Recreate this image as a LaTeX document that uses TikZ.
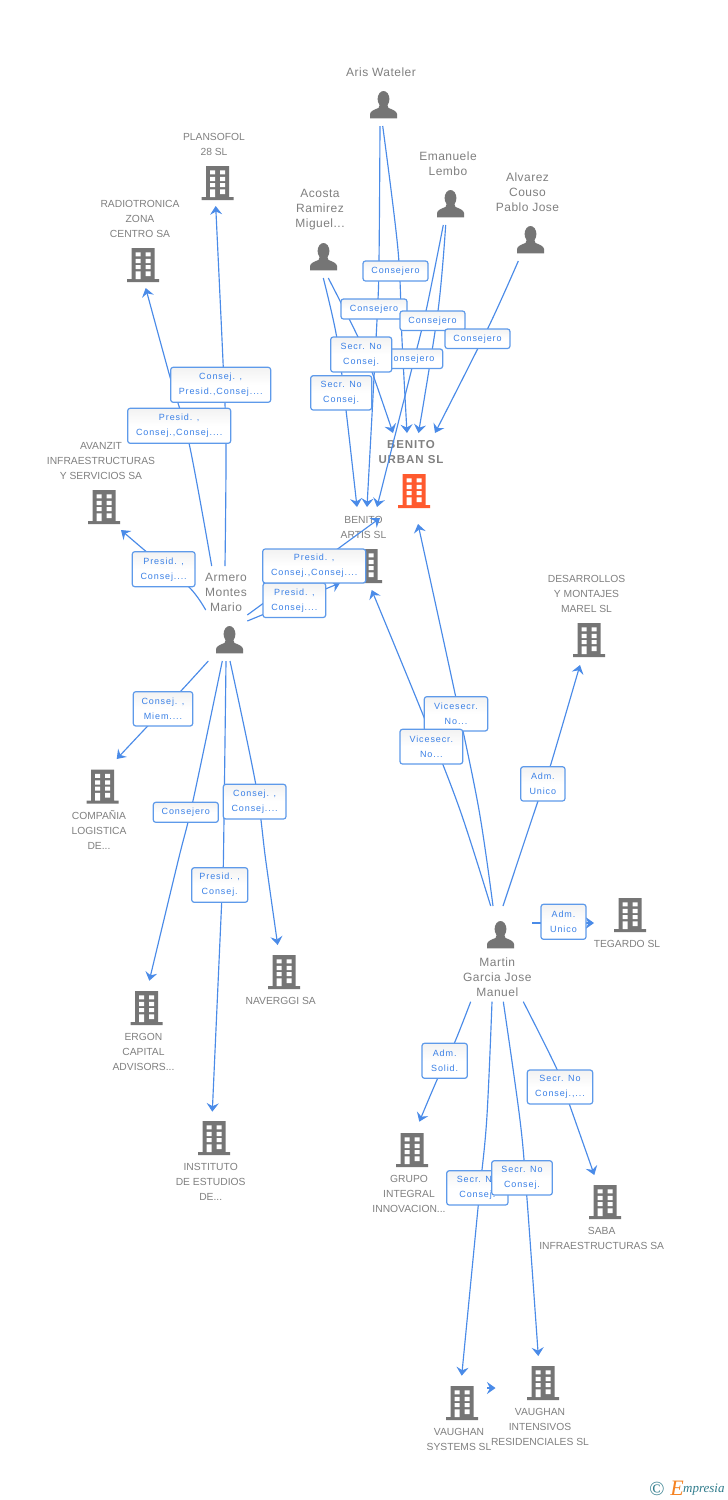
\documentclass[tikz,border=0pt]{standalone}
\usepackage{fontspec}
\usetikzlibrary{arrows.meta}
\setmainfont{Liberation Sans}
\newfontfamily\compfont{Liberation Sans}
\newfontfamily\persfont[LetterSpace=4]{Liberation Sans}
\newfontfamily\headfont[LetterSpace=8]{Liberation Sans}
\newfontfamily\lblfont[LetterSpace=10]{Liberation Sans}
\newfontfamily\logofont{Liberation Serif}
\definecolor{icongray}{HTML}{757575}
\definecolor{txtgray}{HTML}{808080}
\definecolor{hot}{HTML}{FF5A2E}
\definecolor{linkblue}{HTML}{4A8BE8}
\definecolor{lbltext}{HTML}{3A80E6}
\definecolor{lblborder}{HTML}{5E9AEA}
\definecolor{logoteal}{HTML}{2F7C8C}
\definecolor{logoorange}{HTML}{F58220}
\tikzset{
  link/.style={draw=linkblue,line width=1.15pt,-{Stealth[length=8.5pt,width=12pt,inset=3pt,fill=linkblue]}},
  lbl/.style={draw=lblborder,line width=1.2pt,rounded corners=2.5pt,top color=black!5,bottom color=white,middle color=white,
    text=lbltext,font=\lblfont\fontsize{9}{15}\selectfont,align=center,inner sep=0pt,outer sep=0pt},
  comp/.style={text=txtgray,font=\compfont\fontsize{10.3}{15}\selectfont,align=center,inner sep=0pt},
  pers/.style={text=txtgray,font=\persfont\fontsize{12}{15}\selectfont,align=center,inner sep=0pt},
  head/.style={text=txtgray,font=\headfont\bfseries\fontsize{11.5}{15}\selectfont,align=center,inner sep=0pt},
}
% building icon: centre x of the base, top y, colour
\newcommand\bld[3]{\begin{scope}[shift={(#1,#2)}]
  \fill[#3] (-11.5,0) rectangle (11.5,32) (-16,31.2) rectangle (16,34);
  \fill[white] (-7.5,4.3) rectangle (-2.5,8.3) (2.5,4.3) rectangle (7.5,8.3)
     (-7.5,10.8) rectangle (-2.5,15) (2.5,10.8) rectangle (7.5,15)
     (-7.5,17) rectangle (-2.5,21) (2.5,17) rectangle (7.5,21)
     (-7.5,23.3) rectangle (-2.5,31.2) (2.5,23.3) rectangle (7.5,28);
\end{scope}}
% person icon: centre x, top y
\newcommand\prs[2]{\begin{scope}[shift={(#1,#2)}]
  \fill[icongray] (0,8) ellipse [x radius=5.9,y radius=8];
  \fill[icongray] (-13.5,27.3) -- (-13.5,23) .. controls (-13,20) and (-9,18.5) .. (-5,17) -- (-3.5,13)
     -- (3.5,13) -- (5,17) .. controls (9,18.5) and (13,20) .. (13.5,23) -- (13.5,27.3) -- cycle;
\end{scope}}
% connector: id, start, intermediate points, end
\newcommand\cnx[4]{\coordinate (#1s) at (#2); \coordinate (#1t) at (#4);
  \draw[link] plot[smooth,tension=.55] coordinates {(#1s) #3 (#1t)};}
% label box: name, x1, y1, x2, y2, text
\newcommand\lblbox[6]{\node[lbl,minimum width={#4-#2},minimum height={#5-#3}] (#1) at ({(#2+#4)/2},{(#3+#5)/2}) {#6};}
\begin{document}
\begin{tikzpicture}[x=1pt,y=-1pt]
\useasboundingbox (0,0) rectangle (728,1500);
\fill[white] (0,0) rectangle (728,1500);

% icons
\prs{383.5}{91}
\prs{450.5}{190}
\prs{530.5}{226}
\prs{323.5}{243}
\prs{229.5}{626}
\prs{500.5}{921}
\bld{217.5}{166}{icongray}
\bld{143}{248}{icongray}
\bld{104}{490}{icongray}
\bld{414}{474}{hot}
\bld{366}{549}{icongray}
\bld{102.5}{769.5}{icongray}
\bld{146.5}{991}{icongray}
\bld{284}{955}{icongray}
\bld{214}{1121}{icongray}
\bld{589}{623}{icongray}
\bld{630}{898}{icongray}
\bld{605}{1185}{icongray}
\bld{412}{1133}{icongray}
\bld{462}{1386}{icongray}
\bld{543}{1366}{icongray}

% texts
\node[pers] (naris) at (381,72) {Aris Wateler};
\node[pers] (nemanuele) at (448,163.5) {Emanuele\\Lembo};
\node[pers] (nalvarez) at (527.5,192) {Alvarez\\Couso\\Pablo Jose};
\node[pers] (nacosta) at (320,210) {Acosta\\Ramirez\\Miguel...};
\node[pers] (narmero) at (226,592) {Armero\\Montes\\Mario};
\node[pers] (nmartin) at (497.3,977) {Martin\\Garcia Jose\\Manuel};
\node[comp] (nplansofol) at (214,144.5) {PLANSOFOL\\28 SL};
\node[comp] (nradio) at (140,219) {RADIOTRONICA\\ZONA\\CENTRO SA};
\node[comp] (navanzit) at (101,461) {AVANZIT\\INFRAESTRUCTURAS\\Y SERVICIOS SA};
\node[head] (nurban) at (411,452) {BENITO\\URBAN SL};
\node[comp] (nartis) at (363.5,527.5) {BENITO\\ARTIS SL};
\node[comp] (ncompania) at (99,830) {COMPAÑIA\\LOGISTICA\\DE...};
\node[comp] (nergon) at (143.5,1052) {ERGON\\CAPITAL\\ADVISORS...};
\node[comp] (nnaverggi) at (280.7,1001) {NAVERGGI SA};
\node[comp] (ninstituto) at (210.7,1182) {INSTITUTO\\DE ESTUDIOS\\DE...};
\node[comp] (ndesarrollos) at (586.5,594) {DESARROLLOS\\Y MONTAJES\\MAREL SL};
\node[comp] (ntegardo) at (627,944) {TEGARDO SL};
\node[comp] (nsaba) at (601.7,1238.5) {SABA\\INFRAESTRUCTURAS SA};
\node[comp] (ngrupo) at (409,1194) {GRUPO\\INTEGRAL\\INNOVACION...};
\node[comp] (nsystems) at (459,1439.5) {VAUGHAN\\SYSTEMS SL};
\node[comp] (nintensivos) at (540,1427) {VAUGHAN\\INTENSIVOS\\RESIDENCIALES SL};

% connectors
\cnx{aa}{380,126}{(379,260) (377,320)}{367,507}
\cnx{ab}{382.7,126}{(398,250) (402,340)}{407,433}
\cnx{ea}{443.3,225}{(426,311) (412,368)}{377,507}
\cnx{eb}{445.7,225}{(438,311)}{418.5,433}
\cnx{al}{518.3,261}{(488,328)}{435,433}
\cnx{ca}{323.3,278}{(336.7,337) (346,410)}{357,507}
\cnx{cb}{328.3,278}{(358,337) (372,372)}{393,433}
\cnx{ma}{225,566}{(226,443) (223.3,368)}{215.7,206}
\cnx{mb}{211.7,566}{(189,443) (170,377)}{145.7,288}
\cnx{mc}{205.7,610}{(189,587) (146.7,552)}{121,530}
\coordinate (mds) at (247.3,615); \coordinate (mdt) at (380,518);
\draw[link] (mds) -- (mdt);
\coordinate (mes) at (247.3,621); \coordinate (met) at (340,583);
\draw[link] (mes) -- (met);
\cnx{mf}{208.3,661}{(180,692) (147.7,726)}{116.7,759}
\cnx{mg}{222.3,661}{(192.7,802) (178.3,860)}{149.3,980.7}
\cnx{mh}{226,661}{(223.3,867) (221.7,902)}{212.3,1111.7}
\cnx{mi}{230,661}{(255.7,784) (265.7,860)}{277.7,945}
\cnx{ja}{490.7,906}{(460,810) (424.3,718)}{371.7,590}
\cnx{jb}{493,906}{(479,810) (455.7,696.7)}{418,524}
\cnx{jc}{503,906}{(538,801) (550,767)}{580,665}
\coordinate (jds) at (532.3,923); \coordinate (jdt) at (594,923);
\draw[link] (jds) -- (jdt);
\cnx{je}{470.7,1001.7}{(454.3,1043.3) (437.7,1078.3)}{419.3,1121.7}
\cnx{jf}{492,1001.7}{(486.7,1120) (478.3,1205)}{461.7,1375.7}
\cnx{jg}{503.3,1001.7}{(520,1120) (526.7,1195)}{538.3,1356}
\cnx{jh}{523.3,1001.7}{(557.3,1070) (569.3,1104)}{594.3,1175}
\coordinate (vs) at (487,1388);
\coordinate (vt) at (495.5,1388);
\draw[link] (vs) -- (vt);

% labels
\lblbox{l1}{363}{261}{428}{281}{Consejero}
\lblbox{l2}{341}{299}{407}{319}{Consejero}
\lblbox{l3}{400}{311}{465}{330.5}{Consejero}
\lblbox{l4}{445}{329}{510}{348.5}{Consejero}
\lblbox{l5}{378}{349}{442.7}{368.5}{Consejero}
\lblbox{l6}{330.7}{337}{391.7}{372}{Secr. No\\Consej.}
\lblbox{l7}{310.7}{375.7}{371.7}{410}{Secr. No\\Consej.}
\lblbox{l8}{170.7}{367.3}{270.7}{402.3}{Consej. ,\\Presid.,Consej....}
\lblbox{l9}{127.7}{408.3}{230.7}{443.3}{Presid. ,\\Consej.,Consej....}
\lblbox{l10}{132.3}{551.7}{195}{586.7}{Presid. ,\\Consej....}
\lblbox{l12}{263}{583}{325.7}{617.5}{Presid. ,\\Consej....}
\lblbox{l11}{262.7}{549}{365.7}{583}{Presid. ,\\Consej.,Consej....}
\lblbox{l13}{133.3}{691.7}{192.7}{726}{Consej. ,\\Miem....}
\lblbox{l14}{153.3}{802.3}{218.3}{822.3}{Consejero}
\lblbox{l15}{223.3}{784.3}{286}{819}{Consej. ,\\Consej....}
\lblbox{l16}{191.7}{867.7}{247.7}{902.3}{Presid. ,\\Consej.}
\lblbox{l17}{424.3}{696.7}{487.7}{731}{Vicesecr.\\No...}
\lblbox{l18}{400}{729.3}{462.7}{764}{Vicesecr.\\No...}
\lblbox{l19}{520.7}{766.7}{565}{801}{Adm.\\Unico}
\lblbox{l20}{541}{904.3}{586}{939.3}{Adm.\\Unico}
\lblbox{l21}{422}{1043.3}{467.3}{1078.3}{Adm.\\Solid.}
\lblbox{l22}{527.3}{1070}{592.7}{1104}{Secr. No\\Consej.,...}
\lblbox{l23}{446.7}{1170.7}{508}{1205}{Secr. No\\Consej.}
\lblbox{l24}{491.7}{1160.7}{552.3}{1195}{Secr. No\\Consej.}

% logo
\node[text=logoteal,font=\logofont\fontsize{20}{20}\selectfont,inner sep=0pt] (lc) at (657,1489) {©};
\node[text=logoorange,font=\logofont\itshape\fontsize{22}{22}\selectfont,inner sep=0pt] (le) at (677,1488) {E};
\node[text=logoteal,font=\logofont\itshape\fontsize{13}{13}\selectfont,inner sep=0pt,anchor=west] (lm) at (683,1490) {mpresia};
\end{tikzpicture}
\end{document}
